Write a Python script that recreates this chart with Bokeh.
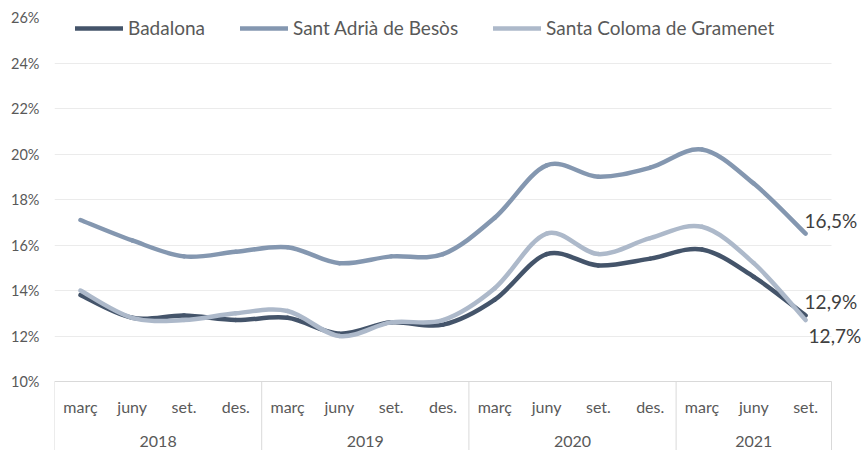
from bokeh.plotting import figure
from bokeh.models import (Range1d, FixedTicker, PrintfTickFormatter, ColumnDataSource,
                          Legend, LegendItem, LabelSet)
from bokeh.core.properties import value
from bokeh.embed import file_html
from bokeh.resources import INLINE

# ---------------- data ----------------
years = ["2018", "2019", "2020", "2021"]
quarters_per_year = [
    ["març", "juny", "set.", "des."],
    ["març", "juny", "set.", "des."],
    ["març", "juny", "set.", "des."],
    ["març", "juny", "set."],
]
series_names = ["Badalona", "Sant Adrià de Besòs", "Santa Coloma de Gramenet"]
badalona = [13.8, 12.8, 12.9, 12.7, 12.8, 12.1, 12.6, 12.5, 13.6, 15.6, 15.1, 15.4, 15.8, 14.6, 12.9]
sant_adria = [17.1, 16.2, 15.5, 15.7, 15.9, 15.2, 15.5, 15.6, 17.2, 19.5, 19.0, 19.4, 20.2, 18.7, 16.5]
santa_coloma = [14.0, 12.8, 12.7, 13.0, 13.1, 12.0, 12.6, 12.7, 14.1, 16.5, 15.6, 16.3, 16.8, 15.2, 12.7]
y_ticks = [10, 12, 14, 16, 18, 20, 22, 24, 26]

# ---------------- styles / layout ----------------
colors = ["#44546A", "#8497B0", "#ADB9CA"]
FONT = "Lato"
TXT = "#595959"
W, H = 862, 450
LEFT, TOP = 54, 17          # frame offsets in px
PLOT_W = 777                # width of the category area in px
AXIS_BASE = 10
Y_TOP = 26
PX_PER_UNIT = 22.75
Y_BOTTOM = AXIS_BASE - (H - TOP - (Y_TOP - AXIS_BASE) * PX_PER_UNIT) / PX_PER_UNIT
Q_LABEL_Y = AXIS_BASE - 25 / PX_PER_UNIT
YEAR_LABEL_Y = AXIS_BASE - 60 / PX_PER_UNIT

quarters = [q for qs in quarters_per_year for q in qs]
n = len(quarters)
xs = [i + 0.5 for i in range(n)]
X_END = n * (W - LEFT) / PLOT_W

p = figure(width=W, height=H, x_range=Range1d(0, X_END), y_range=Range1d(Y_BOTTOM, Y_TOP),
           x_axis_location=None, output_backend="svg", toolbar_location=None,
           min_border_left=LEFT, min_border_right=0, min_border_top=TOP, min_border_bottom=0)
p.outline_line_color = None
p.background_fill_color = "white"
p.border_fill_color = "white"

# y axis
yax = p.yaxis[0]
yax.ticker = FixedTicker(ticks=y_ticks)
yax.formatter = PrintfTickFormatter(format="%d%%")
yax.axis_line_color = None
yax.major_tick_line_color = None
yax.minor_tick_line_color = None
yax.major_tick_out = 0
yax.major_tick_in = 0
yax.major_label_standoff = 15
yax.major_label_text_font = FONT
yax.major_label_text_font_size = "14.5px"
yax.major_label_text_color = TXT
for g in p.grid:
    if g.dimension == 0:
        g.visible = False
    else:
        g.ticker = FixedTicker(ticks=y_ticks)
        g.grid_line_color = "#EBEBEB"
        g.grid_line_width = 1
        g.cross_bounds = (0, n)

# category axis box drawn in data space
bounds = [0]
for qs in quarters_per_year:
    bounds.append(bounds[-1] + len(qs))
year_centers = [(bounds[k] + bounds[k + 1]) / 2 for k in range(len(years))]
p.segment(x0=[0], y0=[AXIS_BASE], x1=[n], y1=[AXIS_BASE], line_color="#D9D9D9", line_width=1)
p.segment(x0=bounds, y0=[AXIS_BASE] * len(bounds), x1=bounds, y1=[Y_BOTTOM] * len(bounds),
          line_color="#D9D9D9", line_width=1)
p.text(x=xs, y=[Q_LABEL_Y] * n, text=quarters, text_align="center", text_baseline="middle",
       text_font=value(FONT), text_font_size="16px", text_color=TXT)
p.text(x=year_centers, y=[YEAR_LABEL_Y] * len(years), text=years, text_align="center",
       text_baseline="middle", text_font=value(FONT), text_font_size="16px", text_color=TXT)

# smooth lines (Catmull-Rom -> cubic bezier, like spreadsheet smoothing)
def bez(xv, yv):
    m = len(xv)
    x0, y0, x1, y1, cx0, cy0, cx1, cy1 = [], [], [], [], [], [], [], []
    for i in range(m - 1):
        im1 = max(i - 1, 0)
        ip2 = min(i + 2, m - 1)
        x0.append(xv[i]); y0.append(yv[i])
        x1.append(xv[i + 1]); y1.append(yv[i + 1])
        cx0.append(xv[i] + (xv[i + 1] - xv[im1]) / 6)
        cy0.append(yv[i] + (yv[i + 1] - yv[im1]) / 6)
        cx1.append(xv[i + 1] - (xv[ip2] - xv[i]) / 6)
        cy1.append(yv[i + 1] - (yv[ip2] - yv[i]) / 6)
    return dict(x0=x0, y0=y0, x1=x1, y1=y1, cx0=cx0, cy0=cy0, cx1=cx1, cy1=cy1)

all_series = [badalona, sant_adria, santa_coloma]
items = []
for name, ys, c in zip(series_names, all_series, colors):
    src = ColumnDataSource(bez(xs, ys))
    p.bezier(x0="x0", y0="y0", x1="x1", y1="y1", cx0="cx0", cy0="cy0", cx1="cx1", cy1="cy1",
             source=src, line_color=c, line_width=4.5, line_cap="round")
    leg_r = p.line(x=[xs[0]], y=[float("nan")], line_color=c, line_width=4.5, line_cap="round")
    items.append(LegendItem(label=name, renderers=[leg_r]))

legend = Legend(items=items, orientation="horizontal", location=(21, 411),
                label_text_font=FONT, label_text_font_size="19px", label_text_color=TXT,
                glyph_width=48, glyph_height=20, label_standoff=5, spacing=35,
                padding=0, margin=0, border_line_color=None, background_fill_alpha=0)
p.add_layout(legend)

# end-of-line data labels
lab_src = ColumnDataSource(dict(
    x=[xs[-1]] * 3,
    y=[s[-1] for s in all_series],
    text=[("%.1f%%" % s[-1]).replace(".", ",") for s in all_series],
    dx=[-1, -1, 3],
    dy=[14, 13, -15],
))
labels = LabelSet(x="x", y="y", text="text", x_offset="dx", y_offset="dy", source=lab_src,
                  text_align="left", text_baseline="middle", text_font=value(FONT),
                  text_font_size="19px", text_color="#404040")
p.add_layout(labels)

open("out.html", "w").write(file_html(p, INLINE))
